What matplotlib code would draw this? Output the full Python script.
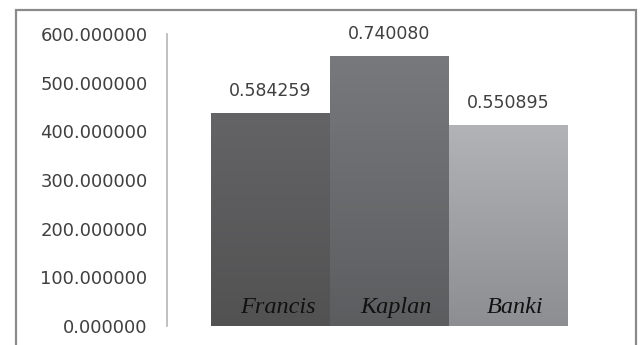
import numpy as np
import matplotlib.pyplot as plt
from matplotlib.patches import Rectangle
from matplotlib.colors import LinearSegmentedColormap

# turbinas e valores de eficiencia
turbinas = ['Francis', 'Kaplan', 'Banki']
eficiencia = [0.584259, 0.740080, 0.550895]
escala = 750  # eixo y em unidades de 750 x eficiencia
yticks = [0, 100, 200, 300, 400, 500, 600]

# cor do topo e da base de cada barra (degrade)
cores_topo = ['#646466', '#78797c', '#b2b3b6']
cores_base = ['#525253', '#5c5d5f', '#8d8e91']

alturas = [e * escala for e in eficiencia]

fig = plt.figure(figsize=(6.43, 3.45), dpi=100)
fig.patch.set_facecolor('white')

# moldura cinzenta a volta do grafico
moldura = Rectangle((16 / 643, -0.2), 620 / 643, 0.2 + (345 - 10) / 345,
                    transform=fig.transFigure, fill=False,
                    edgecolor='#8a8a8a', linewidth=1.6, clip_on=False)
fig.patches.append(moldura)

ax = fig.add_axes([167 / 643, (345 - 326) / 345, 445 / 643, 292 / 345])
x = np.arange(len(turbinas))
barras = ax.bar(x, alturas, width=1.0, color='none', edgecolor='none')

for barra, c1, c2 in zip(barras, cores_topo, cores_base):
    cmap = LinearSegmentedColormap.from_list('g', [c2, c1])
    x0 = barra.get_x()
    grad = np.linspace(0, 1, 256).reshape(-1, 1)
    im = ax.imshow(grad, cmap=cmap, origin='lower', aspect='auto',
                   extent=[x0, x0 + barra.get_width(), 0, barra.get_height()],
                   zorder=2)
    im.set_clip_path(barra)

for xi, h, e in zip(x, alturas, eficiencia):
    ax.annotate(f'{e:.6f}', (xi, h), xytext=(0, 16), textcoords='offset points',
                ha='center', va='center', fontsize=12.5, color='#404040',
                family='DejaVu Sans')

for xi, nome in zip(x, turbinas):
    ax.annotate(nome, (xi, 0), xytext=(5, 13.5), textcoords='offset points',
                ha='center', va='center', fontsize=17.5, style='italic',
                family='Liberation Serif', color='#111111', zorder=5)

ax.set_xlim(-0.87, 2.87)
ax.set_ylim(0, 600)
ax.set_yticks(yticks)
ax.set_yticklabels([f'{v:.6f}' for v in yticks], fontsize=13, color='#404040',
                   family='DejaVu Sans')
ax.tick_params(axis='y', length=0, pad=14)
ax.set_xticks([])
for lado in ['top', 'right', 'bottom']:
    ax.spines[lado].set_visible(False)
ax.spines['left'].set_color('#b5b5b5')
ax.spines['left'].set_linewidth(1.2)

fig.savefig('out.png', dpi=100)
